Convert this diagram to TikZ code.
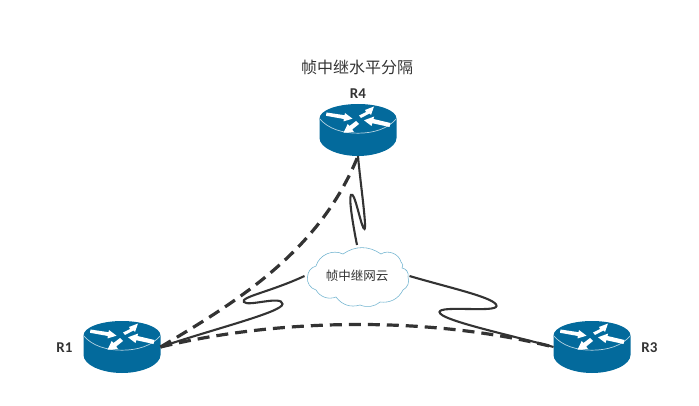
\documentclass[tikz,border=0pt]{standalone}
\usepackage{fontspec}
\setmainfont{Noto Sans CJK SC}
\newfontfamily\labelfont{Carlito}
\usetikzlibrary{arrows.meta}
\definecolor{routerblue}{HTML}{036A9C}
\definecolor{cloudline}{HTML}{6FB3CF}
\definecolor{wire}{HTML}{333333}
\tikzset{
  x=1pt,y=-1pt,
  routerbox/.style={minimum width=77pt,minimum height=52pt,inner sep=0pt,outer sep=0pt},
  cloudbox/.style={minimum width=105pt,minimum height=62pt,inner sep=0pt,outer sep=0pt},
  namelabel/.style={font=\labelfont\bfseries\fontsize{15pt}{17pt}\selectfont,text=wire,inner sep=0pt},
  solidwire/.style={draw=wire,line width=2.1pt},
  dashwire/.style={draw=wire,line width=3.2pt,dash pattern=on 12pt off 7pt},
  rarrowhead/.style={fill=white,draw=none},
  pics/router/.style={code={
    \fill[routerblue] (-38.5,-11.5) -- (-38.5,8) .. controls (-38.5,18) and (-20,26) .. (0,26)
      .. controls (20,26) and (38.5,18) .. (38.5,8) -- (38.5,-11.5) -- cycle;
    \fill[routerblue] (0,-11.5) ellipse [x radius=38.5,y radius=14.5];
    \draw[white!70!routerblue,line width=0.7pt] (-38.5,-11.5) .. controls (-30,-1) and (-15,3.2) .. (0,3.2)
      .. controls (15,3.2) and (30,-1) .. (38.5,-11.5);
    \fill[rarrowhead] (-31.5,-17.5) -- (-13.5,-14.8) -- (-13,-17) -- (-5.5,-11.3) -- (-14.5,-8.6) -- (-14.2,-11) -- (-32,-14.2) -- cycle;
    \fill[rarrowhead] (1,-14.5) -- (8,-18) -- (7,-20) -- (16,-23.5) -- (13,-15) -- (11.5,-16.5) -- (3,-12) -- cycle;
    \fill[rarrowhead] (32.5,-7) -- (15.5,-11) -- (16.2,-13.5) -- (6,-9.7) -- (13.5,-4) -- (14.2,-6.8) -- (31.5,-3) -- cycle;
    \fill[rarrowhead] (-2,-9) -- (-8.5,-4) -- (-10.3,-6) -- (-14.5,2.8) -- (-4,2) -- (-5.8,-0.5) -- (1,-6) -- cycle;
  }}
}
\begin{document}
\begin{tikzpicture}
\useasboundingbox (0,0) rectangle (699,406);
\node[routerbox] (R4) at (358,130) {};
\node[routerbox] (R1) at (122,347) {};
\node[routerbox] (R3) at (592,347) {};
\pic at (R4) {router};
\pic at (R1) {router};
\pic at (R3) {router};
\node[namelabel] (L4) at (358,93.5) {R4};
\node[namelabel] (L1) at (64.5,347.5) {R1};
\node[namelabel] (L3) at (649.5,347.5) {R3};
\node[inner sep=0pt,text=wire,font=\fontsize{16pt}{18pt}\selectfont] (title) at (357,67) {帧中继水平分隔};
\node[cloudbox] (cloud) at (357,276) {};
\draw[draw=cloudline,line width=0.55pt,fill=white]
  (307.5,277) to[bend left=35] (316,266)
  to[bend left=50] (343,254)
  to[bend left=35] (381,254)
  to[bend left=55] (401,262)
  to[bend left=50] (402,268)
  to[bend left=50] (408,277)
  to[bend left=40] (403,290)
  to[bend left=35] (380,302)
  to[bend left=30] (360,305)
  to[bend left=35] (336,297)
  to[bend left=40] (316,290)
  to[bend left=40] cycle;
\node[inner sep=0pt,text=wire,font=\fontsize{12.5pt}{14pt}\selectfont] (cloudtext) at (cloud) {帧中继网云};
\draw[solidwire] (cloud.north) .. controls (353,225) and (347,190) .. (352.5,195)
  .. controls (356,198) and (362,230) .. (364.5,229)
  .. controls (367,228) and (360,180) .. (R4.south);
\draw[solidwire] (cloud.west) .. controls (270,292) and (240,297) .. (244,302)
  .. controls (248,307) and (282,295) .. (282.5,304)
  .. controls (283,312) and (210,330) .. (R1.east);
\draw[solidwire] (cloud.east) .. controls (450,288) and (497,298) .. (496.5,306)
  .. controls (496,313) and (440,305) .. (439.5,312)
  .. controls (439,320) and (510,335) .. (R3.west);
\draw[dashwire] (R1.east) .. controls (240,300) and (320,250) .. (R4.south);
\draw[dashwire] (R1.east) .. controls (280,318) and (430,316) .. (R3.west);
\end{tikzpicture}
\end{document}
